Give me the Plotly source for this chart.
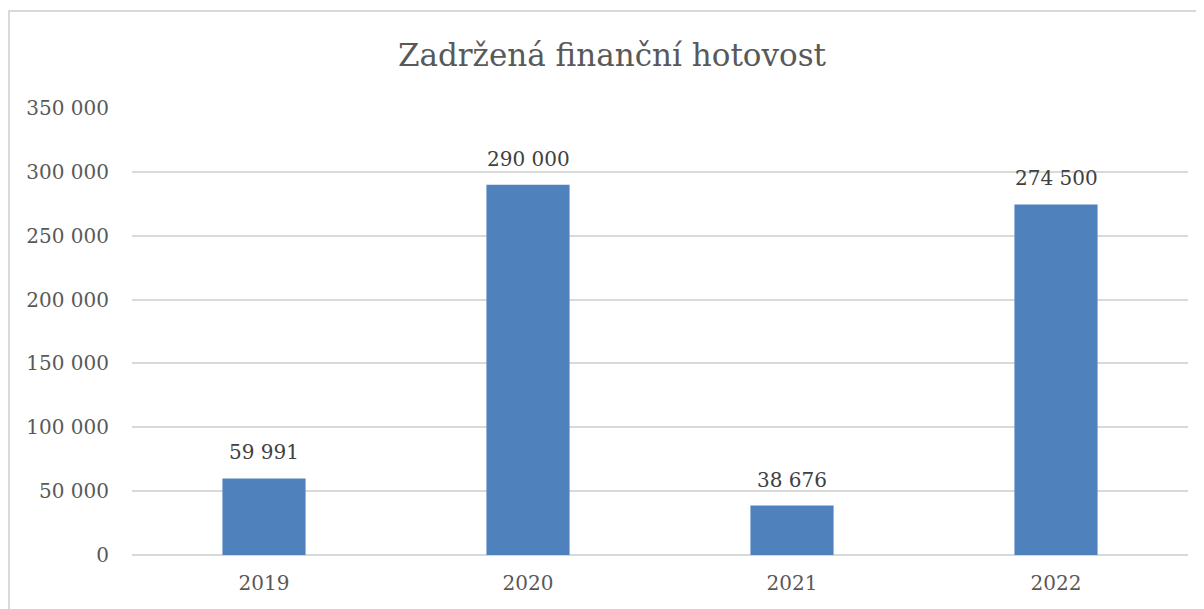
import plotly.graph_objects as go

years = ["2019", "2020", "2021", "2022"]
values = [59991, 290000, 38676, 274500]
y_ticks = [0, 50000, 100000, 150000, 200000, 250000, 300000, 350000]

TEXT = "#595959"
GRID = "#d9d9d9"
FONT = "DejaVu Serif"

# page body has an 8px margin, so the figure is placed 8px right/down
OFF = 8
L, R, T, B = 132 - OFF, 24, 108 - OFF, 62

fig = go.Figure()

fig.add_trace(
    go.Bar(
        x=years,
        y=values,
        marker=dict(color="#4F81BD", line=dict(width=0)),
        width=0.315,
    )
)

# value labels above the bars (category index on the x axis)
for i, v in enumerate(values):
    fig.add_annotation(
        x=i,
        y=v,
        xref="x",
        yref="y",
        text=f"{v:,}".replace(",", " "),
        showarrow=False,
        yanchor="bottom",
        yshift=12,
        font=dict(family=FONT, size=20, color="#404040"),
    )

plot_w = 1204 - L - R
plot_h = 609 - T - B

fig.update_layout(
    width=1204,
    height=609,
    paper_bgcolor="white",
    plot_bgcolor="white",
    separators=", ",
    showlegend=False,
    margin=dict(l=L, r=R, t=T, b=B),
    font=dict(family=FONT, color=TEXT, size=20),
    title=dict(
        text="Zadržená finanční hotovost",
        font=dict(family=FONT, size=31, color=TEXT),
        x=(612 - OFF) / 1204,
        xanchor="center",
        xref="container",
        y=1 - (55 - OFF) / 609,
        yanchor="middle",
        yref="container",
    ),
    shapes=[
        dict(
            type="rect",
            xref="paper",
            yref="paper",
            x0=(1 - L) / plot_w,
            x1=1.1,
            y0=-0.3,
            y1=(plot_h + T - 3) / plot_h,
            line=dict(color=GRID, width=2),
            layer="below",
        )
    ],
)

fig.update_xaxes(
    type="category",
    range=[-0.5, len(years) - 0.5],
    showgrid=False,
    showline=False,
    ticks="",
    ticklabelstandoff=14,
    tickfont=dict(family=FONT, size=20, color=TEXT),
)
fig.update_yaxes(
    range=[0, 350000],
    tickvals=y_ticks,
    tickformat=",",
    gridcolor=GRID,
    gridwidth=1.5,
    zeroline=True,
    zerolinecolor=GRID,
    zerolinewidth=1.5,
    ticks="",
    ticklabelstandoff=22,
    tickfont=dict(family=FONT, size=20, color=TEXT),
)

fig.write_html("out.html")
